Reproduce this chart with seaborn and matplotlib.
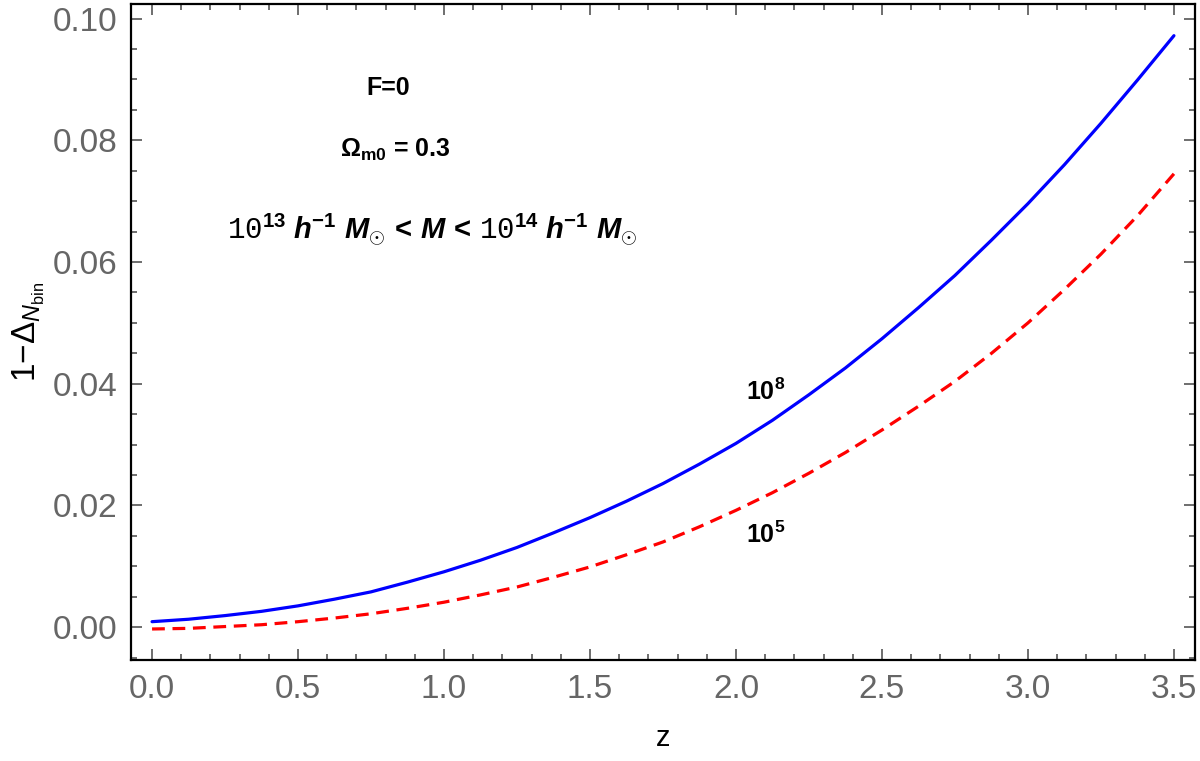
import pandas as pd
import matplotlib
matplotlib.use("Agg")
import matplotlib.pyplot as plt
from matplotlib.ticker import MultipleLocator
import seaborn as sns

# values
z = [0.0, 0.125, 0.25, 0.375, 0.5, 0.625, 0.75, 0.875, 1.0, 1.125, 1.25, 1.375, 1.5,
     1.625, 1.75, 1.875, 2.0, 2.125, 2.25, 2.375, 2.5, 2.625, 2.75, 2.875, 3.0,
     3.125, 3.25, 3.375, 3.5]
delta_1e8 = [0.0009, 0.0013, 0.0019, 0.0026, 0.0035, 0.0046, 0.0058, 0.0074, 0.0091,
             0.0110, 0.0131, 0.0155, 0.0180, 0.0207, 0.0236, 0.0268, 0.0302, 0.0340,
             0.0382, 0.0426, 0.0474, 0.0525, 0.0578, 0.0636, 0.0696, 0.0760, 0.0828,
             0.0899, 0.0972]
delta_1e5 = [-0.0003, -0.0002, 0.0001, 0.0004, 0.0009, 0.0015, 0.0022, 0.0031, 0.0041,
             0.0053, 0.0066, 0.0082, 0.0099, 0.0119, 0.0140, 0.0165, 0.0192, 0.0221,
             0.0253, 0.0287, 0.0324, 0.0363, 0.0404, 0.0450, 0.0500, 0.0555, 0.0613,
             0.0676, 0.0745]

sns.set_style("ticks")
plt.rcParams['font.family'] = ['Liberation Sans', 'DejaVu Sans']
plt.rcParams['text.color'] = 'black'
plt.rcParams['axes.labelcolor'] = 'black'
plt.rcParams['mathtext.fontset'] = 'custom'
plt.rcParams['mathtext.rm'] = 'Liberation Sans'
plt.rcParams['mathtext.it'] = 'Liberation Sans:italic'
plt.rcParams['mathtext.bf'] = 'Liberation Sans:bold'
plt.rcParams['mathtext.bfit'] = 'Liberation Sans:italic:bold'
plt.rcParams['mathtext.sf'] = 'Liberation Sans'
plt.rcParams['mathtext.tt'] = 'Liberation Mono'

df = pd.DataFrame({'z': z, 'hi': delta_1e8, 'lo': delta_1e5})

fig = plt.figure(figsize=(12, 7.61), dpi=100)
ax = fig.add_axes([0.1092, 0.1327, 0.8866, 0.862])

sns.lineplot(data=df, x='z', y='hi', color='#0000ff', lw=2.3, ax=ax)
sns.lineplot(data=df, x='z', y='lo', color='#ff0000', lw=2.3, ax=ax,
             linestyle=(0, (4, 2.4)))

ax.set_xlim(-0.072, 3.572)
ax.set_ylim(-0.0054, 0.1024)
ax.xaxis.set_major_locator(MultipleLocator(0.5))
ax.xaxis.set_minor_locator(MultipleLocator(0.1))
ax.yaxis.set_major_locator(MultipleLocator(0.02))
ax.yaxis.set_minor_locator(MultipleLocator(0.005))
ax.xaxis.set_major_formatter(plt.FormatStrFormatter('%.1f'))
ax.yaxis.set_major_formatter(plt.FormatStrFormatter('%.2f'))

ax.tick_params(which='both', direction='in', top=True, right=True,
               color='#555555', labelsize=24, labelcolor='#666666', width=1.2)
ax.tick_params(which='major', length=8, pad=10)
ax.tick_params(which='minor', length=4)
for s in ax.spines.values():
    s.set_linewidth(1.6)
    s.set_color('black')

ax.set_xlabel('z', fontsize=21, labelpad=14)
ax.set_ylabel(r'$1{-}\Delta_{\mathit{N}_{\mathrm{bin}}}$', fontsize=24, labelpad=4)

ax.text(0.808, 0.0886, 'F=0', fontsize=18, fontweight='bold', ha='center', va='center')
ax.text(0.832, 0.0784, r'$\mathbf{\Omega_{m0}}$ = 0.3', fontsize=18, fontweight='bold',
        ha='center', va='center')
ax.text(0.96, 0.0652,
        r'$\mathtt{10}^{\mathbf{13}}\ \mathbfit{h}^{\mathbf{-1}}\ \mathbfit{M}_{\odot}\,'
        r'\mathbf{<}\,\mathbfit{M}\,\mathbf{<}\,\mathtt{10}^{\mathbf{14}}\ '
        r'\mathbfit{h}^{\mathbf{-1}}\ \mathbfit{M}_{\odot}$',
        fontsize=21, ha='center', va='center')
ax.text(2.10, 0.0386, r'$\mathbf{10^8}$', fontsize=18, ha='center', va='center')
ax.text(2.10, 0.0151, r'$\mathbf{10^5}$', fontsize=18, ha='center', va='center')

fig.savefig('out.png', dpi=100)
